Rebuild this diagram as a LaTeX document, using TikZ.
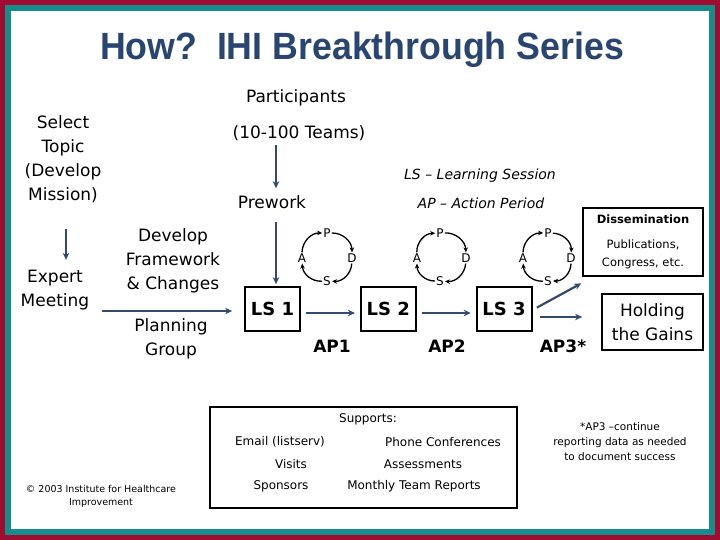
\documentclass[tikz,border=0pt]{standalone}
\usepackage{fontspec}
\setmainfont{DejaVu Sans}
\newfontfamily\titlefont{Liberation Sans}
\usepackage{tikz}
\usetikzlibrary{positioning}
\usetikzlibrary{arrows.meta}

\definecolor{ihiblue}{RGB}{41,70,115}
\definecolor{frameRed}{RGB}{160,12,48}
\definecolor{frameTeal}{RGB}{22,140,140}
\definecolor{arrowBlue}{RGB}{50,75,110}

\begin{document}
\begin{tikzpicture}[x=1pt, y=-1pt,
    txt/.style={align=center, inner sep=1pt, font=\fontsize{17}{24}\selectfont},
    legend/.style={inner sep=1pt, font=\itshape\fontsize{14}{16}\selectfont},
    lsbox/.style={draw, line width=1.8pt, minimum width=55pt, minimum height=44pt, font=\bfseries\fontsize{18}{22}\selectfont},
    ap/.style={inner sep=1pt, font=\bfseries\fontsize{17}{20}\selectfont},
    pdsa/.style={inner sep=1pt, font=\fontsize{12}{14}\selectfont},
    cyc/.style={-{Stealth[length=5pt,width=4.5pt]}, line width=1.3pt, bend left=45},
    flow/.style={-{Stealth[length=7pt,width=6.5pt]}, line width=2.2pt, arrowBlue},
    outbox/.style={draw, line width=1.8pt, align=center},
    supp/.style={inner sep=1pt, font=\fontsize{12}{14}\selectfont},
    note/.style={align=center, inner sep=1pt}
]

% Frame
\fill[frameRed] (0,0) rectangle (720,540);
\fill[frameTeal] (5,5) rectangle (715,535);
\fill[white] (11,11) rectangle (709,529);

% Title
\node[font=\titlefont\bfseries\fontsize{38}{40}\selectfont, text=ihiblue] (title) at (362,50)
    {\scalebox{0.94}[1]{How?\ \ IHI Breakthrough Series}};

% Left column (planning)
\node[txt] (select) at (63,159) {Select\\Topic\\(Develop\\Mission)};
\node[txt] (expert) at (55,290) {Expert\\Meeting};
\node[txt] (framework) at (173,261) {Develop\\Framework\\\& Changes};
\node[txt] (planning) at (171,339) {Planning\\Group};

% Participants
\node[txt] (participants) at (296,98) {Participants};
\node[txt] (teams) at (299,133) {(10-100 Teams)};
\node[txt] (prework) at (272,202) {Prework};

% Legend
\node[legend] (lsdef) at (480,176) {LS -- Learning Session};
\node[legend] (apdef) at (481,203) {AP -- Action Period};

% Learning sessions
\node[lsbox] (ls1) at (272.5,309) {LS 1};
\node[lsbox, right=59pt of ls1] (ls2) {LS 2};
\node[lsbox, right=59pt of ls2] (ls3) {LS 3};

% Action periods
\node[ap] (ap1) at (332,346) {AP1};
\node[ap] (ap2) at (447,346) {AP2};
\node[ap] (ap3) at (563,346) {AP3*};

% PDSA cycles
\node[pdsa] (p1) at (327,233) {P};
\node[pdsa] (d1) at (352,258) {D};
\node[pdsa] (s1) at (327,281) {S};
\node[pdsa] (a1) at (302,258) {A};
\node[pdsa] (p2) at (440,233) {P};
\node[pdsa] (d2) at (466,258) {D};
\node[pdsa] (s2) at (440,281) {S};
\node[pdsa] (a2) at (417,258) {A};
\node[pdsa] (p3) at (548,233) {P};
\node[pdsa] (d3) at (571,258) {D};
\node[pdsa] (s3) at (548,281) {S};
\node[pdsa] (a3) at (523,258) {A};

\draw[cyc] (p1) to (d1);
\draw[cyc] (d1) to (s1);
\draw[cyc] (s1) to (a1);
\draw[cyc] (a1) to (p1);
\draw[cyc] (p2) to (d2);
\draw[cyc] (d2) to (s2);
\draw[cyc] (s2) to (a2);
\draw[cyc] (a2) to (p2);
\draw[cyc] (p3) to (d3);
\draw[cyc] (d3) to (s3);
\draw[cyc] (s3) to (a3);
\draw[cyc] (a3) to (p3);

% Outcomes
\node[outbox, minimum width=120pt, minimum height=68pt, font=\fontsize{11.5}{18}\selectfont] (diss) at (643,242)
    {{\bfseries Dissemination}\\[7pt]Publications,\\Congress, etc.};
\node[outbox, minimum width=101pt, minimum height=56pt, font=\fontsize{17}{24}\selectfont] (holding) at (652.5,322)
    {Holding\\the Gains};

% Flow arrows
\draw[flow, shorten <=25pt, shorten >=9pt] ([xshift=3pt]select.south) -- ([xshift=3pt]select.south |- expert.north);
\draw[flow, shorten <=3pt, shorten >=6pt] ([xshift=3.5pt]teams.south -| ls1) -- ([xshift=3.5pt]prework.north -| ls1);
\draw[flow, shorten <=12pt, shorten >=2pt] ([xshift=3.5pt]prework.south -| ls1) -- ([xshift=3.5pt]ls1.north);
\draw[flow, shorten <=12pt, shorten >=12pt] ([yshift=-2pt]expert.east |- ls1.west) -- ([yshift=-2pt]ls1.west);
\draw[flow, shorten <=5pt, shorten >=5pt] ([yshift=-4pt]ls1.east) -- ([yshift=-4pt]ls2.west);
\draw[flow, shorten <=5pt, shorten >=5pt] ([yshift=-4pt]ls2.east) -- ([yshift=-4pt]ls3.west);
\draw[flow, shorten <=5pt, shorten >=1pt] ([yshift=-1pt]ls3.east) -- ([yshift=-6pt]diss.south west);
\draw[flow, shorten <=7pt, shorten >=19pt] ([yshift=-8pt]ls3.east) -- ([yshift=-8pt]ls3.east -| holding.west);

% Supports
\node[draw, line width=2.5pt, minimum width=307pt, minimum height=101pt] (supports) at (363.5,457.5) {};
\node[supp] (supphead) at (368,419) {Supports:};
\node[supp] (email) at (280,442) {Email (listserv)};
\node[supp] (phone) at (443,442) {Phone Conferences};
\node[supp] (visits) at (291,464) {Visits};
\node[supp] (assess) at (423,464) {Assessments};
\node[supp] (sponsors) at (281,486) {Sponsors};
\node[supp] (reports) at (414,486) {Monthly Team Reports};

% Notes
\node[note, font=\fontsize{10.5}{15}\selectfont] (apnote) at (620,442)
    {*AP3 --continue\\reporting data as needed\\to document success};
\node[note, font=\fontsize{9.5}{13}\selectfont] (copyright) at (101,496)
    {\textcopyright{} 2003 Institute for Healthcare\\Improvement};

\end{tikzpicture}
\end{document}
